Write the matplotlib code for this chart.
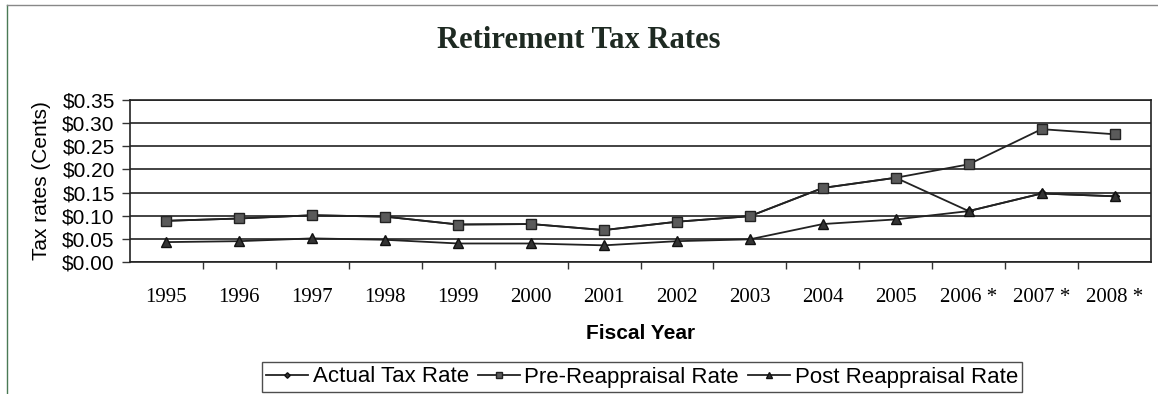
import matplotlib
matplotlib.use("Agg")
import matplotlib.pyplot as plt
from matplotlib.lines import Line2D
from matplotlib.ticker import FuncFormatter, FixedLocator

years = ["1995", "1996", "1997", "1998", "1999", "2000", "2001", "2002",
         "2003", "2004", "2005", "2006 *", "2007 *", "2008 *"]
pre_reappraisal = [0.089, 0.094, 0.101, 0.098, 0.081, 0.082, 0.069, 0.087,
                   0.099, 0.160, 0.182, 0.211, 0.287, 0.276]
post_reappraisal = [0.043, 0.045, 0.051, 0.048, 0.040, 0.040, 0.036, 0.045,
                    0.049, 0.082, 0.092, 0.110, 0.148, 0.142]
actual = [0.089, 0.094, 0.101, 0.098, 0.081, 0.082, 0.069, 0.087,
          0.099, 0.160, 0.182, 0.110, 0.148, 0.142]

fig = plt.figure(figsize=(11.58, 3.94), dpi=100)
ax = fig.add_axes([130 / 1158, 1 - 262 / 394, (1151 - 130) / 1158, (262 - 100) / 394])

x = list(range(len(years)))
ax.plot(x, actual, color="#222222", lw=1.3, marker="D", ms=4,
        mfc="#333333", mec="#111111", label="Actual Tax Rate", zorder=3)
ax.plot(x, pre_reappraisal, color="#222222", lw=1.3, marker="s", ms=6.5,
        mfc="#5a5a5a", mec="#222222", label="Pre-Reappraisal Rate", zorder=4)
ax.plot(x, post_reappraisal, color="#222222", lw=1.3, marker="^", ms=7,
        mfc="#333333", mec="#111111", label="Post Reappraisal Rate", zorder=4)

ax.set_xlim(-0.5, len(years) - 0.5)
ax.set_ylim(0, 0.35)
ax.yaxis.set_major_locator(FixedLocator([i * 0.05 for i in range(8)]))
ax.yaxis.set_major_formatter(FuncFormatter(lambda v, p: f"${v:.2f}"))
ax.grid(axis="y", color="#222222", lw=1.2)
ax.set_axisbelow(True)

ax.set_xticks(x)
ax.set_xticklabels(years, fontfamily="Liberation Serif", fontsize=15)
ax.set_xticks([i + 0.5 for i in range(len(years) - 1)], minor=True)
ax.tick_params(axis="x", which="major", length=0, pad=19)
ax.tick_params(axis="x", which="minor", length=5, width=1, color="#333333", direction="out")
ax.tick_params(axis="y", length=6, width=1, color="#333333", pad=5,
               labelsize=15)
for lab in ax.get_yticklabels():
    lab.set_fontfamily("Liberation Sans")

for s in ax.spines.values():
    s.set_color("#222222")
    s.set_linewidth(1.2)

ax.set_xlabel("Fiscal Year", fontfamily="Liberation Sans", fontweight="bold",
              fontsize=15, labelpad=12)
ax.set_ylabel("Tax rates (Cents)", fontfamily="Liberation Sans", fontsize=15,
              labelpad=8)

fig.text(0.5, 1 - 40 / 394, "Retirement Tax Rates", ha="center", va="center",
         fontfamily="Liberation Serif", fontweight="bold", fontsize=22,
         color="#1e2a22")

leg = fig.legend(loc="center", bbox_to_anchor=(642 / 1158, 1 - 377 / 394),
                 ncol=3, frameon=True, fancybox=False, edgecolor="#222222",
                 handlelength=1.9, handletextpad=0.2, columnspacing=0.4,
                 borderpad=0.2, markerscale=0.7,
                 prop={"family": "Liberation Sans", "size": 16})
leg.get_frame().set_linewidth(1.0)

fig.add_artist(Line2D([7 / 1158, 7 / 1158], [0, 1 - 5 / 394],
                      transform=fig.transFigure, color="#4a7a55", lw=1))
fig.add_artist(Line2D([7 / 1158, 1], [1 - 5 / 394, 1 - 5 / 394],
                      transform=fig.transFigure, color="#888888", lw=1))

fig.savefig("out.png", dpi=100)
